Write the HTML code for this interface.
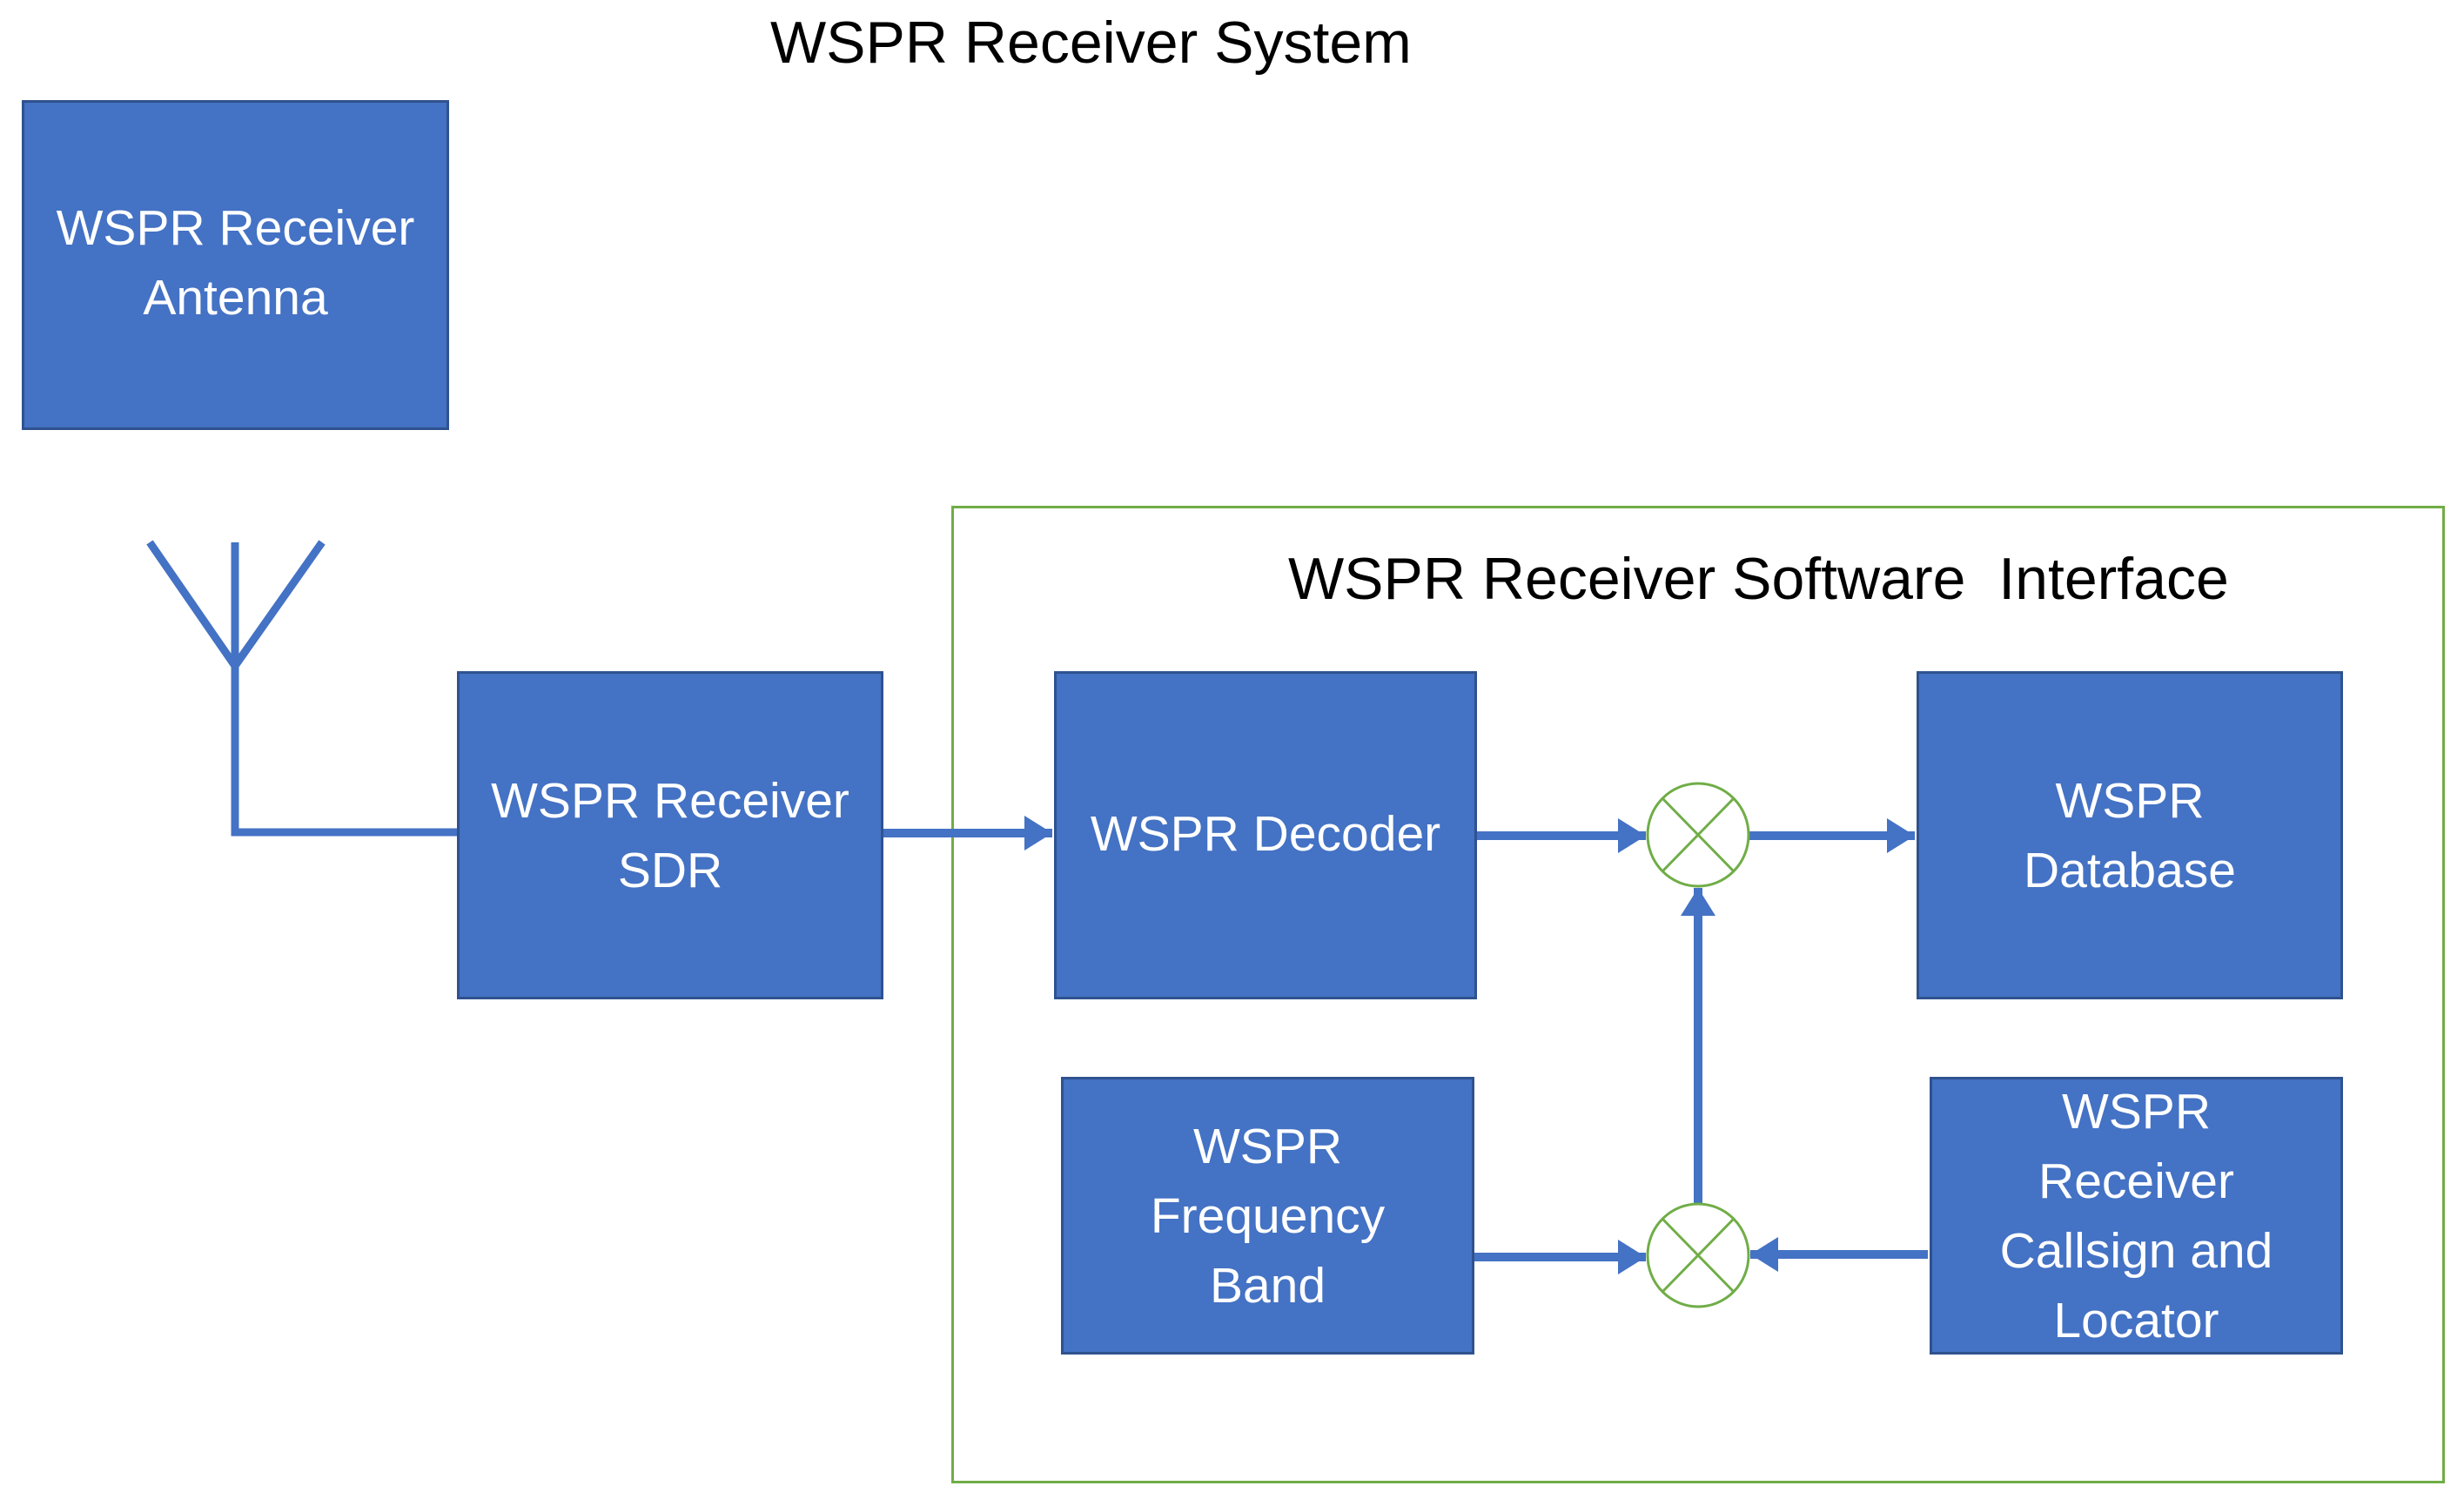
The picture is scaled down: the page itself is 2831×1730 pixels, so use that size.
<!DOCTYPE html>
<html><head><meta charset="utf-8"><style>
html,body{margin:0;padding:0;background:#fff;}
body{width:2831px;height:1730px;position:relative;overflow:hidden;font-family:"Liberation Sans",sans-serif;}
.b{position:absolute;background:#4472C4;border:3px solid #2F528F;box-sizing:border-box;color:#fff;display:flex;align-items:center;justify-content:center;text-align:center;font-size:57px;line-height:80px;}
.t{position:absolute;color:#000;font-size:68px;white-space:nowrap;}
</style></head><body>
<div class="t" style="left:885px;top:10px;">WSPR Receiver System</div>
<div style="position:absolute;left:1093px;top:581px;width:1716px;height:1123px;border:3px solid #70AD47;box-sizing:border-box;"></div>
<div class="t" style="left:1480px;top:626px;">WSPR Receiver Software&nbsp; Interface</div>
<div class="b" style="left:25px;top:115px;width:491px;height:379px;padding-bottom:6px;">WSPR Receiver<br>Antenna</div>
<div class="b" style="left:525px;top:771px;width:490px;height:377px;">WSPR Receiver<br>SDR</div>
<div class="b" style="left:1211px;top:771px;width:486px;height:377px;padding-bottom:4px;">WSPR Decoder</div>
<div class="b" style="left:2202px;top:771px;width:490px;height:377px;">WSPR<br>Database</div>
<div class="b" style="left:1219px;top:1237px;width:475px;height:319px;">WSPR<br>Frequency<br>Band</div>
<div class="b" style="left:2217px;top:1237px;width:475px;height:319px;">WSPR<br>Receiver<br>Callsign and<br>Locator</div>
<svg width="2831" height="1730" style="position:absolute;left:0;top:0;">
<defs><marker id="a" markerWidth="4" markerHeight="4" refX="3.2" refY="2" orient="auto" markerUnits="strokeWidth"><path d="M0,0 L3.2,2 L0,4 z" fill="#4472C4"/></marker></defs>
<g stroke="#4472C4" stroke-width="9" fill="none">
<polyline points="172,623 270,765 370,623"/>
<polyline points="270,623 270,956 525,956"/>
</g>
<g stroke="#4472C4" stroke-width="10" fill="none" marker-end="url(#a)">
<line x1="1015" y1="957" x2="1209" y2="957"/>
<line x1="1697" y1="960" x2="1891" y2="960"/>
<line x1="2009" y1="960" x2="2200" y2="960"/>
<line x1="1951" y1="1382" x2="1951" y2="1020"/>
<line x1="1694" y1="1444" x2="1891" y2="1444"/>
<line x1="2215" y1="1441" x2="2011" y2="1441"/>
</g>
<g stroke="#70AD47" stroke-width="3" fill="#fff">
<ellipse cx="1951" cy="959" rx="58" ry="59"/>
<ellipse cx="1951" cy="1442" rx="58" ry="59"/>
<path d="M1910,917 L1992,1001 M1992,917 L1910,1001 M1910,1400 L1992,1484 M1992,1400 L1910,1484" fill="none"/>
</g>
</svg>
</body></html>
